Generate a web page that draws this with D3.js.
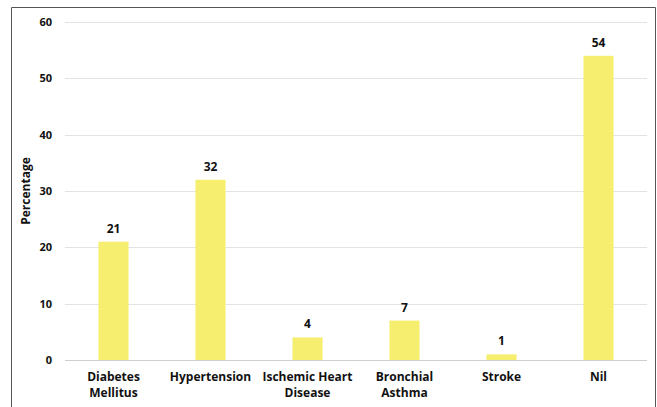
<!DOCTYPE html>
<html>
<head>
<meta charset="utf-8">
<script src="https://cdn.jsdelivr.net/npm/d3@7"></script>
<style>
  body { margin: 0; background: #fff; }
  text { font-family: "Open Sans", "Liberation Sans", sans-serif; font-weight: bold; fill: #111; }
</style>
</head>
<body>
<script>
var categories = [["Diabetes", "Mellitus"], ["Hypertension"], ["Ischemic Heart", "Disease"], ["Bronchial", "Asthma"], ["Stroke"], ["Nil"]];
var values = [21, 32, 4, 7, 1, 54];
var yTicks = [0, 10, 20, 30, 40, 50, 60];

var width = 657, height = 407;
var svg = d3.select('body').append('svg')
    .attr('width', width)
    .attr('height', height);

// outer frame (bottom runs off the picture)
svg.append('path')
    .attr('d', 'M11.5,' + height + 'V7.5H655.5V' + height)
    .style('fill', 'none')
    .style('stroke', '#555')
    .style('stroke-width', 1);

var x = d3.scaleBand()
    .domain(d3.range(categories.length))
    .range([65, 647])
    .paddingInner(0.69)
    .paddingOuter(0.345);

var y = d3.scaleLinear()
    .domain([0, 60])
    .range([360, 22]);

// gridlines
svg.append('g')
    .selectAll('line')
    .data(yTicks)
    .enter()
    .append('line')
    .attr('x1', 65)
    .attr('x2', 647)
    .attr('y1', function(d){ return Math.round(y(d)) + 0.5; })
    .attr('y2', function(d){ return Math.round(y(d)) + 0.5; })
    .style('stroke', function(d){ return d === 0 ? '#cfcfcf' : '#e3e3e3'; })
    .style('stroke-width', 1);

// y tick labels
svg.append('g')
    .selectAll('text')
    .data(yTicks)
    .enter()
    .append('text')
    .attr('x', 52)
    .attr('y', function(d){ return y(d); })
    .attr('dy', '0.35em')
    .attr('text-anchor', 'end')
    .style('font-size', '11px')
    .text(function(d){ return d; });

// y title
svg.append('text')
    .attr('transform', 'translate(30,' + 191 + ') rotate(-90)')
    .attr('text-anchor', 'middle')
    .style('font-size', '12px')
    .text('Percentage');

// bars
svg.append('g')
    .selectAll('rect')
    .data(values)
    .enter()
    .append('rect')
    .attr('x', function(d, i){ return x(i); })
    .attr('y', function(d){ return y(d); })
    .attr('width', x.bandwidth())
    .attr('height', function(d){ return y(0) - y(d); })
    .style('fill', '#f6ee6f');

// value labels
svg.append('g')
    .selectAll('text')
    .data(values)
    .enter()
    .append('text')
    .attr('x', function(d, i){ return x(i) + x.bandwidth() / 2; })
    .attr('y', function(d){ return y(d) - 9; })
    .attr('text-anchor', 'middle')
    .style('font-size', '12px')
    .text(function(d){ return d; });

// category labels
var cat = svg.append('g')
    .selectAll('text')
    .data(categories)
    .enter()
    .append('text')
    .attr('x', function(d, i){ return x(i) + x.bandwidth() / 2; })
    .attr('y', 381)
    .attr('text-anchor', 'middle')
    .style('font-size', '12px');
cat.selectAll('tspan')
    .data(function(d){ return d; })
    .enter()
    .append('tspan')
    .attr('x', function(){ return d3.select(this.parentNode).attr('x'); })
    .attr('dy', function(d, i){ return i === 0 ? 0 : 16; })
    .text(function(d){ return d; });
</script>
</body>
</html>
